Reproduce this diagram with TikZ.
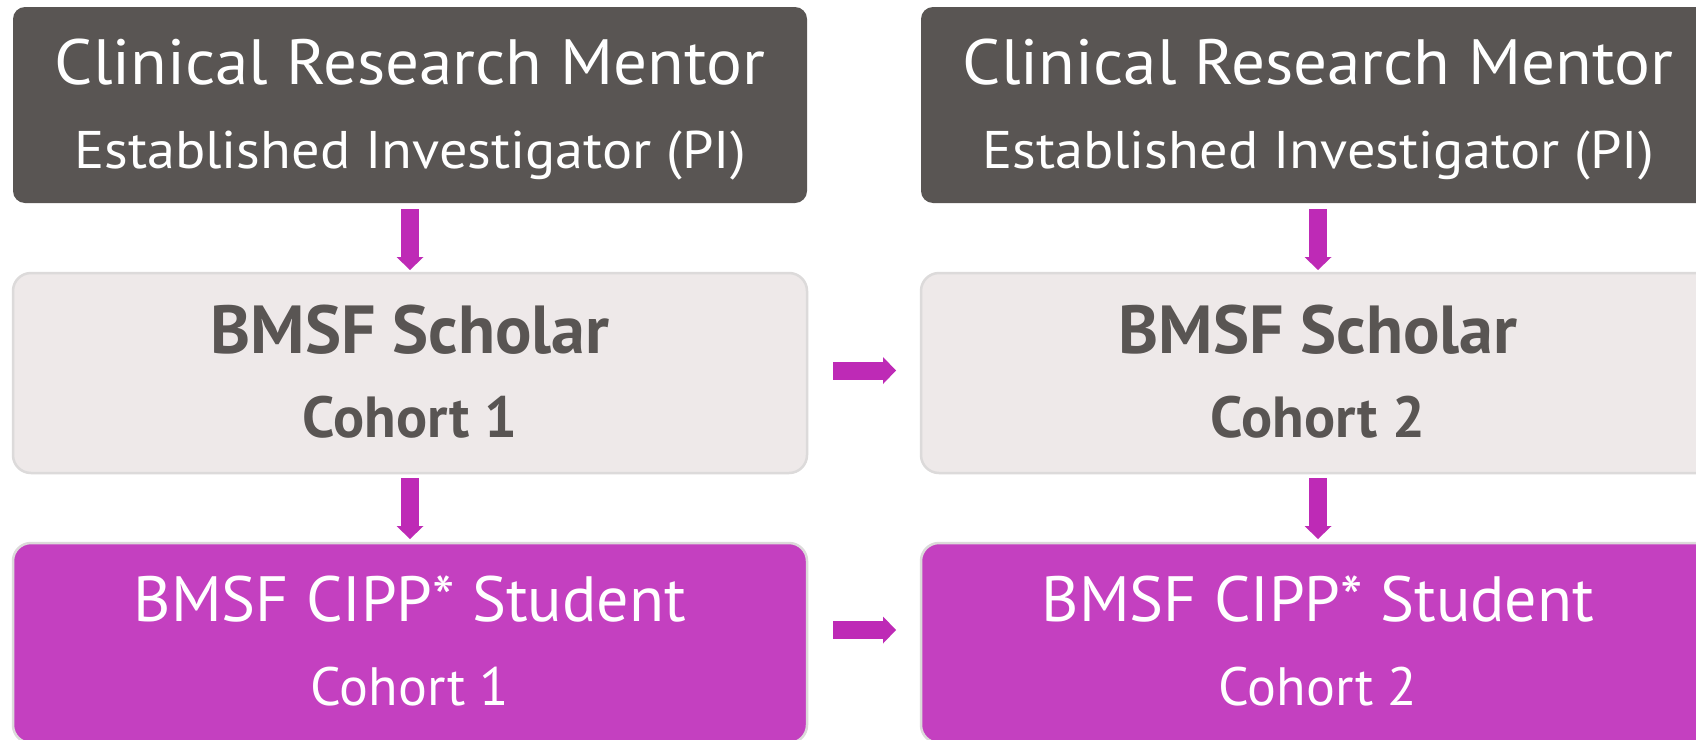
\documentclass[tikz,border=0pt]{standalone}
\usepackage{fontspec}
\setmainfont{PT Sans}
\newfontfamily\mentorfont[FakeStretch=1.048]{PT Sans}
\newfontfamily\investfont[FakeStretch=1.062]{PT Sans}
\usetikzlibrary{arrows.meta,positioning,calc}
\definecolor{mentorgray}{HTML}{595553}
\definecolor{scholargray}{HTML}{EEE9E9}
\definecolor{studentpink}{HTML}{C440C0}
\definecolor{arrowpink}{HTML}{BE2AB6}
\definecolor{edgegray}{HTML}{DCDADA}
\newcommand{\bigline}{\fontsize{64}{64}\selectfont}
\newcommand{\smallline}{\fontsize{53}{53}\selectfont}

\begin{document}
\begin{tikzpicture}[x=1pt,y=-1pt,
  box/.style={rectangle, rounded corners=18pt, minimum width=794pt,
    minimum height=200pt, inner sep=0pt, outer sep=0pt},
  mentor/.style={box, fill=mentorgray, rounded corners=12pt, minimum height=196pt},
  scholar/.style={box, fill=scholargray, draw=edgegray, line width=2.5pt},
  student/.style={box, fill=studentpink, draw=edgegray, line width=2.5pt},
  label/.style={anchor=base, inner sep=0pt},
  flow/.style={draw=arrowpink, line width=18pt,
    -{Triangle[width=27pt,length=13pt,line width=0pt]}}]
  \clip (0,0) rectangle (1696,739);
  \fill[white] (0,0) rectangle (1696,739);

  % cohort 1
  \node[mentor] (pi1) at (410,105) {};
  \node[scholar] (sch1) at (410,373) {};
  \node[student] (cipp1) at (410,643) {};
  % cohort 2
  \node[mentor] (pi2) at (1318,105) {};
  \node[scholar] (sch2) at (1318,373) {};
  \node[student] (cipp2) at (1318,643) {};

  \node[label, text=white, font=\mentorfont\bigline] (pi1a) at ($(pi1.center)+(0,-21)$) {Clinical Research Mentor};
  \node[label, text=white, font=\investfont\smallline] (pi1b) at ($(pi1.center)+(0,63)$) {Established Investigator (PI)};
  \node[label, text=white, font=\mentorfont\bigline] (pi2a) at ($(pi2.center)+(0,-21)$) {Clinical Research Mentor};
  \node[label, text=white, font=\investfont\smallline] (pi2b) at ($(pi2.center)+(0,63)$) {Established Investigator (PI)};

  \node[label, text=mentorgray, font=\fontsize{68}{68}\selectfont\bfseries] (sch1a) at ($(sch1.center)+(0,-20)$) {BMSF Scholar};
  \node[label, text=mentorgray, font=\fontsize{58}{58}\selectfont\bfseries] (sch1b) at ($(sch1.center)+(0,64)$) {Cohort 1};
  \node[label, text=mentorgray, font=\fontsize{68}{68}\selectfont\bfseries] (sch2a) at ($(sch2.center)+(0,-20)$) {BMSF Scholar};
  \node[label, text=mentorgray, font=\fontsize{58}{58}\selectfont\bfseries] (sch2b) at ($(sch2.center)+(0,64)$) {Cohort 2};

  \node[label, text=white, font=\bigline] (cipp1a) at ($(cipp1.center)+(0,-22)$) {BMSF CIPP* Student};
  \node[label, text=white, font=\fontsize{54}{54}\selectfont] (cipp1b) at ($(cipp1.center)+(0,62)$) {Cohort 1};
  \node[label, text=white, font=\bigline] (cipp2a) at ($(cipp2.center)+(0,-22)$) {BMSF CIPP* Student};
  \node[label, text=white, font=\fontsize{54}{54}\selectfont] (cipp2b) at ($(cipp2.center)+(0,62)$) {Cohort 2};

  \draw[flow, shorten <=6pt, shorten >=3pt] (pi1) -- (sch1);
  \draw[flow, shorten <=5pt, shorten >=4pt] (sch1) -- (cipp1);
  \draw[flow, shorten <=6pt, shorten >=3pt] (pi2) -- (sch2);
  \draw[flow, shorten <=5pt, shorten >=4pt] (sch2) -- (cipp2);
  \draw[flow] ([xshift=26pt,yshift=2.5pt]sch1.east) -- ([xshift=-25pt,yshift=2.5pt]sch2.west);
  \draw[flow] ([xshift=26pt,yshift=13pt]cipp1.east) -- ([xshift=-25pt,yshift=13pt]cipp2.west);
\end{tikzpicture}
\end{document}
